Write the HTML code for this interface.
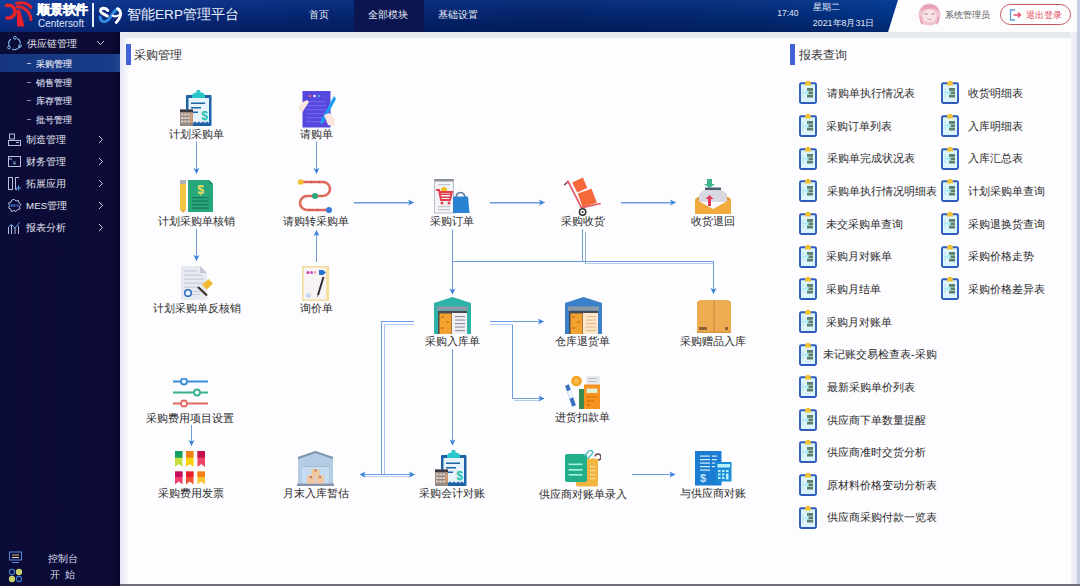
<!DOCTYPE html>
<html><head><meta charset="utf-8">
<style>
*{box-sizing:border-box;}
html,body{margin:0;padding:0;}
body{width:1080px;height:586px;overflow:hidden;position:relative;background:#e6eaf0;font-family:"Liberation Sans",sans-serif;}
.a{position:absolute;white-space:nowrap;}
#hdr{position:absolute;left:0;top:0;width:1080px;height:32px;background:#fdfdfe;}
#hdrdark{position:absolute;left:0;top:0;width:898px;height:32px;
 background:linear-gradient(180deg,rgba(40,90,190,0.22),rgba(40,90,190,0) 45%,rgba(0,5,40,0.28)),linear-gradient(90deg,#0c3493 0px,#092c80 120px,#062672 300px,#04246a 560px,#032a74 760px,#01368a 898px);
 clip-path:polygon(0 0,898px 0,888px 32px,0 32px);}
#side{position:absolute;left:0;top:32px;width:120px;height:554px;background:linear-gradient(90deg,#0a0d36 0,#0c0b38 15%,#0b0c36 60%,#0c0b36 92%,#06082a 100%);}
#main{position:absolute;left:120px;top:38px;width:952px;height:547px;background:#fdfdff;}
#lstrip{position:absolute;left:120px;top:38px;width:9px;height:547px;background:linear-gradient(90deg,#e6e6f5,#fbfbff);}
#rstrip{position:absolute;left:1071px;top:32px;width:9px;height:553px;background:linear-gradient(90deg,#f2f3f7,#e9ebf0 60%,#c6d0e2 70%,#bfcade);}
#rstripH{position:absolute;left:1077px;top:0;width:3px;height:32px;background:#c6d0e2;}
#bline{position:absolute;left:120px;top:584px;width:960px;height:2px;background:#6d7078;}
.nav{color:#e8ecf6;font-size:10.3px;}
.mi{color:#e6e6f0;font-size:9.8px;}
.sub{color:#d8dae8;font-size:9px;-webkit-text-stroke:0.15px #d8dae8;}
.lbl{color:#2b2b2b;font-size:10.9px;}
.rp{color:#2b2b2b;font-size:10.8px;}
</style></head><body>
<div id="hdr"></div>
<div id="hdrdark"></div>
<div id="side"></div>
<div id="main"></div>
<div id="lstrip"></div>
<div id="rstrip"></div><div id="rstripH"></div>
<div id="bline"></div>


<div class="a" style="left:126px;top:44px;width:4.5px;height:21px;background:#4462d8"></div>
<div class="a" style="left:134px;top:47.5px;font-size:11.6px;color:#333">采购管理</div>
<div class="a" style="left:790px;top:44px;width:4.5px;height:21px;background:#4462d8"></div>
<div class="a" style="left:798.5px;top:47.5px;font-size:11.6px;color:#333">报表查询</div>
<svg class="a" style="left:180px;top:90px" width="32" height="37" viewBox="0 0 32 37">
<rect x="6" y="5" width="25.5" height="31" rx="1" fill="#1d64a6"/>
<rect x="8.5" y="8" width="20.5" height="25" fill="#e6f3fb"/>
<path d="M9 33 L11 31.5 L13 33 L15 31.5 L17 33 L19 31.5 L21 33 L23 31.5 L25 33 L27 31.5 L29 33 Z" fill="#1d64a6"/>
<path d="M12 5.5 Q12 2.5 18.5 2 Q25 2.5 25 5.5 L25 8 L12 8 Z" fill="#2bc6c8"/>
<rect x="16.5" y="0" width="4" height="2.5" rx="1" fill="#2bc6c8"/>
<rect x="11" y="12.5" width="14" height="1.5" fill="#1d64a6"/>
<rect x="11" y="17" width="10" height="1.5" fill="#1d64a6"/>
<rect x="11" y="21.5" width="7" height="1.5" fill="#1d64a6"/>
<text x="24.5" y="30" font-family="Liberation Sans" font-weight="bold" font-size="12" fill="#22c0b0" text-anchor="middle">$</text>
<rect x="0" y="19.5" width="13" height="16.5" fill="#9a8a80"/>
<rect x="0" y="19.5" width="13" height="2.5" fill="#3a3a44"/>
<g fill="#d8d0c8"><rect x="1" y="23.5" width="2.5" height="2"/><rect x="4.3" y="23.5" width="2.5" height="2"/><rect x="7.6" y="23.5" width="2.5" height="2"/>
<rect x="1" y="27" width="2.5" height="2"/><rect x="4.3" y="27" width="2.5" height="2"/><rect x="7.6" y="27" width="2.5" height="2"/>
<rect x="1" y="30.5" width="2.5" height="2"/><rect x="4.3" y="30.5" width="2.5" height="2"/><rect x="7.6" y="30.5" width="2.5" height="2"/></g>
<rect x="10.5" y="23.5" width="2" height="9" fill="#e0a070"/>
</svg>
<div class="a lbl" style="left:136px;width:120px;text-align:center;top:127.89999999999999px">计划采购单</div>
<svg class="a" style="left:298px;top:91px" width="38" height="37" viewBox="0 0 38 37">
<rect x="4.5" y="0" width="28" height="36.5" fill="#5548de"/>
<circle cx="12" cy="5" r="1.3" fill="#e06070"/><circle cx="16.5" cy="5" r="1.3" fill="#f4f0ff"/><circle cx="21" cy="5" r="1.3" fill="#50a0f0"/>
<g fill="#6f64ea"><rect x="8" y="10" width="20" height="1.2"/><rect x="8" y="14" width="20" height="1.2"/><rect x="8" y="18" width="20" height="1.2"/><rect x="8" y="22" width="20" height="1.2"/><rect x="8" y="26" width="20" height="1.2"/><rect x="8" y="30" width="20" height="1.2"/></g>
<path d="M0 18 L3 12 L9 9 L11 11 L7 17 L4 22 Z" fill="#fae6de"/>
<path d="M36 5 L38 8 L25 32 L22 33 L23 29 Z" fill="#1c9cf2"/>
<path d="M26 24 L31 22 L37 28 L36 35 L30 34 Z" fill="#fae6de"/>
</svg>
<div class="a lbl" style="left:256px;width:120px;text-align:center;top:127.89999999999999px">请购单</div>
<svg class="a" style="left:180px;top:180px" width="33" height="33" viewBox="0 0 33 33">
<rect x="0" y="3" width="6" height="27" fill="#f2c640"/>
<rect x="0" y="0" width="6" height="4" fill="#b0b0b8"/>
<path d="M0 30 L3 33 L6 30 Z" fill="#e8b050"/>
<path d="M8 0 L29 0 L33 4 L33 32 L8 32 Z" fill="#27a87c"/>
<path d="M29 0 L33 4 L29 4 Z" fill="#1c8a64"/>
<text x="20.5" y="13.5" font-family="Liberation Sans" font-weight="bold" font-size="12" fill="#f6e060" text-anchor="middle">$</text>
<g fill="#1c7a5a"><rect x="12" y="17" width="17" height="1.3"/><rect x="12" y="20.5" width="17" height="1.3"/><rect x="12" y="24" width="17" height="1.3"/><rect x="12" y="27.5" width="17" height="1.3"/></g>
</svg>
<div class="a lbl" style="left:136px;width:120px;text-align:center;top:214.7px">计划采购单核销</div>
<svg class="a" style="left:297px;top:179px" width="36" height="35" viewBox="0 0 36 35">
<path d="M4 3 H26 A7 7 0 0 1 26 17 H10 A7 7 0 0 0 10 31 H31" fill="none" stroke="#e06a5a" stroke-width="2.6"/>
<rect x="1" y="0.5" width="5.5" height="5" rx="1" fill="#f4c038"/>
<circle cx="18" cy="17" r="3" fill="#2aa878"/>
<circle cx="32" cy="31" r="3" fill="#3a78d8"/>
<g fill="#c04a40"><rect x="14" y="2" width="1" height="2"/><rect x="22" y="2" width="1" height="2"/><rect x="12" y="30" width="1" height="2"/><rect x="20" y="30" width="1" height="2"/></g>
</svg>
<div class="a lbl" style="left:256px;width:120px;text-align:center;top:214.7px">请购转采购单</div>
<svg class="a" style="left:434px;top:179px" width="36" height="35" viewBox="0 0 36 35">
<rect x="0.5" y="0" width="19" height="34" fill="#f4f4f6" stroke="#b8bec8" stroke-width="1"/>
<rect x="0.5" y="0" width="19" height="2.5" fill="#8a9098"/>
<rect x="4" y="5" width="12" height="1.2" fill="#c0c4cc"/>
<circle cx="10" cy="11" r="3" fill="#f0c020"/>
<path d="M2 11 L5 11 L7 21 L16 21 L18 13 L5 13" fill="none" stroke="#e2404e" stroke-width="2"/>
<g fill="#e2404e"><rect x="6" y="14.5" width="11" height="1.5"/><rect x="6.5" y="17.5" width="10" height="1.5"/></g>
<circle cx="8" cy="24" r="1.5" fill="#e2404e"/><circle cx="15" cy="24" r="1.5" fill="#e2404e"/>
<rect x="4" y="27" width="12" height="1.2" fill="#c0c4cc"/><rect x="4" y="30" width="12" height="1.2" fill="#c0c4cc"/>
<path d="M22 20 Q22 13.5 26.5 13.5 Q31 13.5 31 20" fill="none" stroke="#5a7a9a" stroke-width="1.6"/>
<path d="M19 17.5 H34 L35.5 34 H19 Z" fill="#2a82d2"/>
</svg>
<div class="a lbl" style="left:392px;width:120px;text-align:center;top:214.7px">采购订单</div>
<svg class="a" style="left:563px;top:176px" width="40" height="40" viewBox="0 0 40 40">
<polygon points="9.2,6.6 19.9,1.6 24.2,12 14.2,16.6" fill="#f4683a"/>
<polygon points="14.8,17.6 28.5,12.7 33.9,26.7 19.5,31" fill="#f4683a"/>
<path d="M4.5 4.4 L18.5 31.7 L37.8 27.5" fill="none" stroke="#e25a64" stroke-width="1.7"/>
<path d="M1.3 9.1 L4.5 6" stroke="#8a4050" stroke-width="1.5"/>
<circle cx="19.6" cy="36" r="3.2" fill="#fff" stroke="#333" stroke-width="1.5"/>
<circle cx="19.6" cy="36" r="1" fill="#333"/>
</svg>
<div class="a lbl" style="left:523px;width:120px;text-align:center;top:214.7px">采购收货</div>
<svg class="a" style="left:695px;top:178px" width="37" height="36" viewBox="0 0 37 36">
<path d="M12 1 H17 V6 H20 L14.5 10 L9 6 H12 Z" fill="#3fb48e"/>
<rect x="10" y="9.5" width="16" height="3" fill="#4c5c6c"/>
<path d="M4 16 L9 12 H27 L32 16 V24 H4 Z" fill="#d8d8e2"/>
<path d="M14.5 17 L18.5 21 H16 V28 H13 V21 H10.5 Z" fill="#e23a5a"/>
<path d="M0 21 L18 31 L36 21 V36 H0 Z" fill="#f2aa3e"/>
<path d="M0 21 L4 18.5 L4 23 Z" fill="#e09830"/><path d="M36 21 L32 18.5 L32 23 Z" fill="#e09830"/>
</svg>
<div class="a lbl" style="left:653px;width:120px;text-align:center;top:214.7px">收货退回</div>
<svg class="a" style="left:180px;top:265px" width="34" height="36" viewBox="0 0 34 36">
<path d="M1 1 H20 L27 8 V35 H1 Z" fill="#e8eaf2"/>
<path d="M20 1 L27 8 H20 Z" fill="#c4c6d4"/>
<g fill="#c8cad6"><rect x="4" y="5.5" width="13" height="1.2"/><rect x="4" y="9.5" width="18" height="1.2"/><rect x="4" y="13.5" width="20" height="1.2"/><rect x="4" y="17.5" width="20" height="1.2"/><rect x="4" y="21.5" width="14" height="1.2"/><rect x="12" y="26" width="8" height="1"/><rect x="12" y="29" width="8" height="1"/></g>
<circle cx="8" cy="28" r="3.3" fill="#e8f2ff" stroke="#2f6fc0" stroke-width="1.6"/>
<path d="M22 20 L28.5 14 L33 18.5 L27 24.5 Z" fill="#f2b830"/>
<path d="M18 22 L27 30.5" stroke="#3a3020" stroke-width="2.2"/>
</svg>
<div class="a lbl" style="left:136.5px;width:120px;text-align:center;top:301.8px">计划采购单反核销</div>
<svg class="a" style="left:302px;top:266px" width="28" height="35" viewBox="0 0 28 35">
<rect x="0.8" y="0.8" width="25.5" height="33.5" fill="#f8f4f6" stroke="#f2dc9c" stroke-width="1.6"/>
<rect x="24" y="2" width="3" height="32" fill="#f4e0a0"/>
<circle cx="6" cy="6.5" r="1.5" fill="#c040b0"/><circle cx="9.5" cy="6.5" r="1.5" fill="#c850c0"/><circle cx="13" cy="6.5" r="1.4" fill="#f0b0c0"/>
<path d="M17 4 H21 L24 6.5 L21 9 H17 Z" fill="#2a72d0"/>
<path d="M21.5 11 L16 29" stroke="#2a2a30" stroke-width="1.9"/><path d="M16 29 L15.3 31" stroke="#888" stroke-width="1"/>
<circle cx="6.5" cy="29.5" r="2.5" fill="#c8d8f0"/>
</svg>
<div class="a lbl" style="left:256px;width:120px;text-align:center;top:301.8px">询价单</div>
<svg class="a" style="left:434px;top:297px" width="37" height="38" viewBox="0 0 37 38">
<path d="M18.5 0 L37 6 V37 H0 V6 Z" fill="#2fb2a8"/>
<rect x="3" y="9.5" width="31" height="4" fill="#8c9aa6"/>
<rect x="4" y="14" width="29" height="23" fill="#4a4a50"/>
<rect x="5.5" y="16.5" width="12" height="20.5" fill="#f2a22e"/>
<g fill="#e07a20"><rect x="7" y="19" width="3" height="2"/><rect x="12" y="24" width="3" height="2"/><rect x="7" y="30" width="3" height="2"/></g>
<rect x="18" y="16" width="15" height="21" fill="#f2eef2"/>
<g fill="#8890a0"><rect x="21" y="19" width="10" height="1.1"/><rect x="21" y="22.5" width="10" height="1.1"/><rect x="21" y="26" width="10" height="1.1"/><rect x="21" y="29.5" width="10" height="1.1"/><rect x="21" y="33" width="10" height="1.1"/></g>
</svg>
<div class="a lbl" style="left:392px;width:120px;text-align:center;top:334.7px">采购入库单</div>
<svg class="a" style="left:565px;top:297px" width="37" height="38" viewBox="0 0 37 38">
<path d="M18.5 0 L37 6 V37 H0 V6 Z" fill="#3a80c8"/>
<rect x="3" y="9.5" width="31" height="4" fill="#8c9aa6"/>
<rect x="4" y="14" width="29" height="23" fill="#4a4a50"/>
<rect x="5.5" y="16.5" width="12" height="20.5" fill="#f2a22e"/>
<g fill="#e07a20"><rect x="7" y="19" width="3" height="2"/><rect x="12" y="24" width="3" height="2"/><rect x="7" y="30" width="3" height="2"/></g>
<rect x="18" y="16" width="15" height="21" fill="#fbe8cc"/>
<g fill="#e8b888"><rect x="21" y="19" width="10" height="1.1"/><rect x="21" y="22.5" width="10" height="1.1"/><rect x="21" y="26" width="10" height="1.1"/><rect x="21" y="29.5" width="10" height="1.1"/><rect x="21" y="33" width="10" height="1.1"/></g>
</svg>
<div class="a lbl" style="left:522.5px;width:120px;text-align:center;top:334.7px">仓库退货单</div>
<svg class="a" style="left:696px;top:300px" width="36" height="34" viewBox="0 0 36 34">
<path d="M1 2 L4 0 H32 L35 2 V33 H1 Z" fill="#eeac52"/>
<rect x="17.5" y="0" width="1.2" height="33" fill="#d08a38"/>
<rect x="1" y="31.5" width="34" height="1.5" fill="#d8963e"/>
<rect x="3" y="27" width="8" height="3" fill="#8a6030"/>
<rect x="29" y="27" width="3" height="3" fill="#8a6030"/>
</svg>
<div class="a lbl" style="left:653px;width:120px;text-align:center;top:334.9px">采购赠品入库</div>
<svg class="a" style="left:173px;top:378px" width="36" height="30" viewBox="0 0 36 30">
<path d="M0 3.5 H35" stroke="#3c8ed6" stroke-width="2"/>
<circle cx="11" cy="3.5" r="3" fill="#fff" stroke="#3c8ed6" stroke-width="1.8"/>
<path d="M0 14.5 H35" stroke="#3ab08e" stroke-width="2"/>
<circle cx="24" cy="14.5" r="3" fill="#fff" stroke="#3ab08e" stroke-width="1.8"/>
<path d="M0 25.5 H35" stroke="#e06a64" stroke-width="2"/>
<circle cx="11" cy="25.5" r="3" fill="#fff" stroke="#e06a64" stroke-width="1.8"/>
</svg>
<div class="a lbl" style="left:130px;width:120px;text-align:center;top:411.8px">采购费用项目设置</div>
<svg class="a" style="left:563px;top:374px" width="38" height="36" viewBox="0 0 38 36">
<rect x="23" y="2" width="14" height="9" fill="#e8eaee"/>
<g fill="#b8bcc4"><rect x="25" y="4" width="9" height="1"/><rect x="25" y="7" width="9" height="1"/></g>
<circle cx="13.5" cy="7" r="5.3" fill="#f4a424"/>
<circle cx="13.5" cy="7" r="2.5" fill="#f8c050"/>
<rect x="16" y="15" width="5" height="20" fill="#3a8a52"/>
<rect x="21" y="10.5" width="16" height="24.5" fill="#f59220"/>
<rect x="23.5" y="14.5" width="11" height="4.5" fill="#e4f2d4"/>
<g fill="#e07a10"><rect x="24" y="22" width="3" height="2"/><rect x="28" y="22" width="3" height="2"/><rect x="32" y="22" width="2.5" height="2"/><rect x="24" y="26" width="3" height="2"/><rect x="28" y="26" width="3" height="2"/><rect x="24" y="30" width="3" height="2"/></g>
<path d="M4 11 L11 32" stroke="#3a72c2" stroke-width="4"/>
<path d="M6 16.5 L8.5 24" stroke="#f0f4fa" stroke-width="4.2"/>
</svg>
<div class="a lbl" style="left:522px;width:120px;text-align:center;top:411.2px">进货扣款单</div>
<svg class="a" style="left:175px;top:451px" width="31" height="34" viewBox="0 0 31 34"><path d="M0 0 h7.5 v16 l-3.75 -3 l-3.75 3 Z" fill="#c4e03e"/><rect x="0" y="0" width="7.5" height="6.7" fill="#12a064"/><path d="M11 0 h7.5 v16 l-3.75 -3 l-3.75 3 Z" fill="#f8d00c"/><rect x="11" y="0" width="7.5" height="6.7" fill="#f28214"/><path d="M22.5 0 h7.5 v16 l-3.75 -3 l-3.75 3 Z" fill="#f04466"/><rect x="22.5" y="0" width="7.5" height="6.7" fill="#c8104e"/><path d="M0 20.5 h7.5 v13 l-3.75 -3 l-3.75 3 Z" fill="#f0406a"/><rect x="0" y="20.5" width="7.5" height="5.5" fill="#c4105c"/><path d="M11 20.5 h7.5 v13 l-3.75 -3 l-3.75 3 Z" fill="#f05030"/><rect x="11" y="20.5" width="7.5" height="5.5" fill="#e8202e"/><path d="M22.5 20.5 h7.5 v13 l-3.75 -3 l-3.75 3 Z" fill="#f8c42a"/><rect x="22.5" y="20.5" width="7.5" height="5.5" fill="#f28014"/></svg>
<div class="a lbl" style="left:131px;width:120px;text-align:center;top:487.4px">采购费用发票</div>
<svg class="a" style="left:297px;top:451px" width="37" height="35" viewBox="0 0 37 35">
<path d="M18.5 0.5 L36 6.5 V34 H1 V6.5 Z" fill="#b4cce4"/>
<path d="M1 7 L18.5 1 L36 7" fill="none" stroke="#7e96ae" stroke-width="2"/>
<rect x="6" y="15" width="25" height="1.5" fill="#a0b8d0"/>
<rect x="5" y="16" width="27" height="17" fill="#c6dcf2"/>
<rect x="0" y="32.5" width="37" height="2.5" fill="#8494a6"/>
<rect x="14.5" y="18" width="8" height="7" fill="#f0c8a0"/>
<rect x="10" y="24.5" width="8" height="8" fill="#f2c4a0"/>
<rect x="19" y="24.5" width="8" height="8" fill="#f2c4a0"/>
<g fill="#c08060"><circle cx="18.5" cy="19.5" r="1.3"/><circle cx="14" cy="26" r="1.3"/><circle cx="23" cy="26" r="1.3"/></g>
</svg>
<div class="a lbl" style="left:256px;width:120px;text-align:center;top:487.4px">月末入库暂估</div>
<svg class="a" style="left:435px;top:450px" width="32" height="37" viewBox="0 0 32 37">
<rect x="6" y="5" width="25.5" height="31" rx="1" fill="#1d64a6"/>
<rect x="8.5" y="8" width="20.5" height="25" fill="#e6f3fb"/>
<path d="M9 33 L11 31.5 L13 33 L15 31.5 L17 33 L19 31.5 L21 33 L23 31.5 L25 33 L27 31.5 L29 33 Z" fill="#1d64a6"/>
<path d="M12 5.5 Q12 2.5 18.5 2 Q25 2.5 25 5.5 L25 8 L12 8 Z" fill="#2bc6c8"/>
<rect x="16.5" y="0" width="4" height="2.5" rx="1" fill="#2bc6c8"/>
<rect x="11" y="12.5" width="14" height="1.5" fill="#1d64a6"/>
<rect x="11" y="17" width="10" height="1.5" fill="#1d64a6"/>
<rect x="11" y="21.5" width="7" height="1.5" fill="#1d64a6"/>
<text x="24.5" y="30" font-family="Liberation Sans" font-weight="bold" font-size="12" fill="#22c0b0" text-anchor="middle">$</text>
<rect x="0" y="19.5" width="13" height="16.5" fill="#9a8a80"/>
<rect x="0" y="19.5" width="13" height="2.5" fill="#3a3a44"/>
<g fill="#d8d0c8"><rect x="1" y="23.5" width="2.5" height="2"/><rect x="4.3" y="23.5" width="2.5" height="2"/><rect x="7.6" y="23.5" width="2.5" height="2"/>
<rect x="1" y="27" width="2.5" height="2"/><rect x="4.3" y="27" width="2.5" height="2"/><rect x="7.6" y="27" width="2.5" height="2"/>
<rect x="1" y="30.5" width="2.5" height="2"/><rect x="4.3" y="30.5" width="2.5" height="2"/><rect x="7.6" y="30.5" width="2.5" height="2"/></g>
<rect x="10.5" y="23.5" width="2" height="9" fill="#e0a070"/>
</svg>
<div class="a lbl" style="left:392px;width:120px;text-align:center;top:487.4px">采购会计对账</div>
<svg class="a" style="left:564px;top:450px" width="37" height="37" viewBox="0 0 37 37">
<rect x="12" y="8.5" width="22" height="28" rx="2" fill="#f2b640"/>
<g fill="#f8d890"><rect x="26" y="16" width="5" height="1.3"/><rect x="26" y="20" width="5" height="1.3"/><rect x="26" y="24" width="5" height="1.3"/><rect x="26" y="28" width="5" height="1.3"/></g>
<path d="M31 6.5 A3 3 0 1 1 34 10" fill="none" stroke="#704848" stroke-width="1.4"/>
<rect x="1" y="4" width="22" height="28" rx="2" fill="#22ae8a"/>
<g fill="#a8f0e0"><rect x="4.5" y="13.5" width="14" height="1.6"/><rect x="4.5" y="19" width="14" height="1.6"/><rect x="4.5" y="24" width="14" height="1.6"/></g>
<path d="M20 6 L25 1 A2 2 0 0 1 28 4 L23 9" fill="none" stroke="#58c0c8" stroke-width="1.6"/>
</svg>
<div class="a lbl" style="left:522.5px;width:120px;text-align:center;top:487.9px">供应商对账单录入</div>
<svg class="a" style="left:695px;top:451px" width="37" height="35" viewBox="0 0 37 35">
<rect x="0" y="0" width="26.5" height="34.5" fill="#1b7ed2"/>
<g fill="#d4ecfc"><rect x="5" y="4.5" width="10" height="1.2"/><rect x="17" y="4.5" width="5" height="1.2"/><rect x="5" y="8" width="10" height="1.2"/><rect x="17" y="8" width="5" height="1.2"/><rect x="5" y="11.5" width="10" height="1.2"/><rect x="17" y="11.5" width="3" height="1.2"/><rect x="5" y="15" width="10" height="1.2"/><rect x="17" y="15" width="3" height="1.2"/><rect x="5" y="18.5" width="10" height="1.2"/></g>
<text x="8" y="31" font-family="Liberation Sans" font-weight="bold" font-size="11" fill="#c4e4fa" text-anchor="middle">$</text>
<rect x="21" y="11" width="15.5" height="19.5" fill="#1b8ed8"/>
<rect x="22.5" y="13" width="12.5" height="3.5" fill="#b8f0fc"/>
<g fill="#b8f0fc"><rect x="23" y="19" width="2.5" height="2"/><rect x="27" y="19" width="2.5" height="2"/><rect x="31" y="19" width="2.5" height="2"/><rect x="23" y="22.5" width="2.5" height="2"/><rect x="27" y="22.5" width="2.5" height="2"/><rect x="31" y="22.5" width="2.5" height="6"/><rect x="23" y="26" width="2.5" height="2"/><rect x="27" y="26" width="2.5" height="2"/></g>
</svg>
<div class="a lbl" style="left:653px;width:120px;text-align:center;top:487.4px">与供应商对账</div>
<svg class="a" style="left:0;top:0" width="1080" height="586" viewBox="0 0 1080 586"><path d="M196.5 141.5 V173.5" stroke="#6c9cdc" stroke-width="1"/><path d="M196.5 174 L193.5 168 L196.5 169.5 L199.5 168 Z" fill="#3a82d8"/><path d="M316.5 141.5 V173.5" stroke="#6c9cdc" stroke-width="1"/><path d="M316.5 174 L313.5 168 L316.5 169.5 L319.5 168 Z" fill="#3a82d8"/><path d="M196.5 229 V260.5" stroke="#6c9cdc" stroke-width="1"/><path d="M196.5 261 L193.5 255 L196.5 256.5 L199.5 255 Z" fill="#3a82d8"/><path d="M316.5 262 V230.5" stroke="#6c9cdc" stroke-width="1"/><path d="M316.5 230 L313.5 236 L316.5 234.5 L319.5 236 Z" fill="#3a82d8"/><path d="M354 202.5 H413.5" stroke="#6c9cdc" stroke-width="1"/><path d="M354 203.5 H408" stroke="#b4cdee" stroke-width="1"/><path d="M414 202.5 L408 199.5 L409.5 202.5 L408 205.5 Z" fill="#3a82d8"/><path d="M490 202.5 H544.5" stroke="#6c9cdc" stroke-width="1"/><path d="M490 203.5 H540" stroke="#b4cdee" stroke-width="1"/><path d="M545 202.5 L539 199.5 L540.5 202.5 L539 205.5 Z" fill="#3a82d8"/><path d="M621 202.5 H675.5" stroke="#6c9cdc" stroke-width="1"/><path d="M621 203.5 H670" stroke="#b4cdee" stroke-width="1"/><path d="M676 202.5 L670 199.5 L671.5 202.5 L670 205.5 Z" fill="#3a82d8"/><path d="M452.5 229.5 V294" stroke="#6c9cdc" stroke-width="1"/><path d="M452.5 294.5 L449.5 288.5 L452.5 290.0 L455.5 288.5 Z" fill="#3a82d8"/><path d="M582.5 229 V262" stroke="#6c9cdc" stroke-width="1"/><path d="M585.5 232 V264" stroke="#8caad2" stroke-width="1"/><path d="M452.5 261.5 H713.5" stroke="#6c9cdc" stroke-width="1"/><path d="M585.5 263.5 H713.5" stroke="#b4cdee" stroke-width="1"/><path d="M713.5 261.5 V293.5" stroke="#6c9cdc" stroke-width="1"/><path d="M713.5 294 L710.5 288 L713.5 289.5 L716.5 288 Z" fill="#3a82d8"/><path d="M381.5 321.5 H414" stroke="#6c9cdc" stroke-width="1"/><path d="M384.5 324.5 H414" stroke="#b4cdee" stroke-width="1"/><path d="M381.5 321.5 V474" stroke="#6c9cdc" stroke-width="1"/><path d="M384.5 324.5 V474" stroke="#a8c4ea" stroke-width="1"/><path d="M360 474.5 H414.5" stroke="#6c9cdc" stroke-width="1"/><path d="M362 476.5 H412" stroke="#b4cdee" stroke-width="1"/><path d="M359.5 474.5 L365.5 471.5 L364.0 474.5 L365.5 477.5 Z" fill="#3a82d8"/><path d="M415 474.5 L409 471.5 L410.5 474.5 L409 477.5 Z" fill="#3a82d8"/><path d="M490 321.5 H543.5" stroke="#6c9cdc" stroke-width="1"/><path d="M490 324.5 H512" stroke="#b4cdee" stroke-width="1"/><path d="M544 321.5 L538 318.5 L539.5 321.5 L538 324.5 Z" fill="#3a82d8"/><path d="M512.5 324.5 V398.5" stroke="#6c9cdc" stroke-width="1"/><path d="M512.5 398.5 H544" stroke="#6c9cdc" stroke-width="1"/><path d="M514 400.5 H540" stroke="#b4cdee" stroke-width="1"/><path d="M544.5 398.5 L538.5 395.5 L540.0 398.5 L538.5 401.5 Z" fill="#3a82d8"/><path d="M452.5 349 V445" stroke="#6c9cdc" stroke-width="1"/><path d="M452.5 445.5 L449.5 439.5 L452.5 441.0 L455.5 439.5 Z" fill="#3a82d8"/><path d="M191.5 425 V445.5" stroke="#6c9cdc" stroke-width="1"/><path d="M191.5 446 L188.5 440 L191.5 441.5 L194.5 440 Z" fill="#3a82d8"/><path d="M632 474.5 H675" stroke="#6c9cdc" stroke-width="1"/><path d="M675.5 474.5 L669.5 471.5 L671.0 474.5 L669.5 477.5 Z" fill="#3a82d8"/></svg>
<svg class="a" style="left:799px;top:80.4px" width="18" height="24" viewBox="0 0 18 24">
<rect x="1" y="3.2" width="16" height="19.8" rx="1.2" fill="#dcf4fb" stroke="#2f5cbc" stroke-width="1.9"/>
<path d="M6 4.5 Q6 0.8 9 0.8 Q12 0.8 12 4.5 V5.5 H6 Z" fill="#f2c232"/>
<rect x="8" y="8" width="6" height="9.5" fill="#5c7e6c"/>
<g fill="#cfe8e0"><rect x="8" y="10.8" width="6" height="0.7"/><rect x="8" y="14.3" width="6" height="0.7"/></g>
<circle cx="7.8" cy="12.7" r="2" fill="#a8eef8"/>
<path d="M4 8.5 V17 M4 12.7 H6" fill="none" stroke="#8cc8d8" stroke-width="0.8" stroke-dasharray="1 0.8"/>
</svg>
<div class="a rp" style="left:826.7px;top:87.1px">请购单执行情况表</div>
<svg class="a" style="left:799px;top:113.0px" width="18" height="24" viewBox="0 0 18 24">
<rect x="1" y="3.2" width="16" height="19.8" rx="1.2" fill="#dcf4fb" stroke="#2f5cbc" stroke-width="1.9"/>
<path d="M6 4.5 Q6 0.8 9 0.8 Q12 0.8 12 4.5 V5.5 H6 Z" fill="#f2c232"/>
<rect x="8" y="8" width="6" height="9.5" fill="#5c7e6c"/>
<g fill="#cfe8e0"><rect x="8" y="10.8" width="6" height="0.7"/><rect x="8" y="14.3" width="6" height="0.7"/></g>
<circle cx="7.8" cy="12.7" r="2" fill="#a8eef8"/>
<path d="M4 8.5 V17 M4 12.7 H6" fill="none" stroke="#8cc8d8" stroke-width="0.8" stroke-dasharray="1 0.8"/>
</svg>
<div class="a rp" style="left:826.2px;top:119.69999999999999px">采购订单列表</div>
<svg class="a" style="left:799px;top:145.7px" width="18" height="24" viewBox="0 0 18 24">
<rect x="1" y="3.2" width="16" height="19.8" rx="1.2" fill="#dcf4fb" stroke="#2f5cbc" stroke-width="1.9"/>
<path d="M6 4.5 Q6 0.8 9 0.8 Q12 0.8 12 4.5 V5.5 H6 Z" fill="#f2c232"/>
<rect x="8" y="8" width="6" height="9.5" fill="#5c7e6c"/>
<g fill="#cfe8e0"><rect x="8" y="10.8" width="6" height="0.7"/><rect x="8" y="14.3" width="6" height="0.7"/></g>
<circle cx="7.8" cy="12.7" r="2" fill="#a8eef8"/>
<path d="M4 8.5 V17 M4 12.7 H6" fill="none" stroke="#8cc8d8" stroke-width="0.8" stroke-dasharray="1 0.8"/>
</svg>
<div class="a rp" style="left:826.7px;top:152.4px">采购单完成状况表</div>
<svg class="a" style="left:799px;top:178.3px" width="18" height="24" viewBox="0 0 18 24">
<rect x="1" y="3.2" width="16" height="19.8" rx="1.2" fill="#dcf4fb" stroke="#2f5cbc" stroke-width="1.9"/>
<path d="M6 4.5 Q6 0.8 9 0.8 Q12 0.8 12 4.5 V5.5 H6 Z" fill="#f2c232"/>
<rect x="8" y="8" width="6" height="9.5" fill="#5c7e6c"/>
<g fill="#cfe8e0"><rect x="8" y="10.8" width="6" height="0.7"/><rect x="8" y="14.3" width="6" height="0.7"/></g>
<circle cx="7.8" cy="12.7" r="2" fill="#a8eef8"/>
<path d="M4 8.5 V17 M4 12.7 H6" fill="none" stroke="#8cc8d8" stroke-width="0.8" stroke-dasharray="1 0.8"/>
</svg>
<div class="a rp" style="left:826.7px;top:185.0px">采购单执行情况明细表</div>
<svg class="a" style="left:799px;top:211.0px" width="18" height="24" viewBox="0 0 18 24">
<rect x="1" y="3.2" width="16" height="19.8" rx="1.2" fill="#dcf4fb" stroke="#2f5cbc" stroke-width="1.9"/>
<path d="M6 4.5 Q6 0.8 9 0.8 Q12 0.8 12 4.5 V5.5 H6 Z" fill="#f2c232"/>
<rect x="8" y="8" width="6" height="9.5" fill="#5c7e6c"/>
<g fill="#cfe8e0"><rect x="8" y="10.8" width="6" height="0.7"/><rect x="8" y="14.3" width="6" height="0.7"/></g>
<circle cx="7.8" cy="12.7" r="2" fill="#a8eef8"/>
<path d="M4 8.5 V17 M4 12.7 H6" fill="none" stroke="#8cc8d8" stroke-width="0.8" stroke-dasharray="1 0.8"/>
</svg>
<div class="a rp" style="left:826.2px;top:217.7px">未交采购单查询</div>
<svg class="a" style="left:799px;top:243.6px" width="18" height="24" viewBox="0 0 18 24">
<rect x="1" y="3.2" width="16" height="19.8" rx="1.2" fill="#dcf4fb" stroke="#2f5cbc" stroke-width="1.9"/>
<path d="M6 4.5 Q6 0.8 9 0.8 Q12 0.8 12 4.5 V5.5 H6 Z" fill="#f2c232"/>
<rect x="8" y="8" width="6" height="9.5" fill="#5c7e6c"/>
<g fill="#cfe8e0"><rect x="8" y="10.8" width="6" height="0.7"/><rect x="8" y="14.3" width="6" height="0.7"/></g>
<circle cx="7.8" cy="12.7" r="2" fill="#a8eef8"/>
<path d="M4 8.5 V17 M4 12.7 H6" fill="none" stroke="#8cc8d8" stroke-width="0.8" stroke-dasharray="1 0.8"/>
</svg>
<div class="a rp" style="left:826.2px;top:250.29999999999998px">采购月对账单</div>
<svg class="a" style="left:799px;top:276.2px" width="18" height="24" viewBox="0 0 18 24">
<rect x="1" y="3.2" width="16" height="19.8" rx="1.2" fill="#dcf4fb" stroke="#2f5cbc" stroke-width="1.9"/>
<path d="M6 4.5 Q6 0.8 9 0.8 Q12 0.8 12 4.5 V5.5 H6 Z" fill="#f2c232"/>
<rect x="8" y="8" width="6" height="9.5" fill="#5c7e6c"/>
<g fill="#cfe8e0"><rect x="8" y="10.8" width="6" height="0.7"/><rect x="8" y="14.3" width="6" height="0.7"/></g>
<circle cx="7.8" cy="12.7" r="2" fill="#a8eef8"/>
<path d="M4 8.5 V17 M4 12.7 H6" fill="none" stroke="#8cc8d8" stroke-width="0.8" stroke-dasharray="1 0.8"/>
</svg>
<div class="a rp" style="left:826.2px;top:282.90000000000003px">采购月结单</div>
<svg class="a" style="left:799px;top:308.9px" width="18" height="24" viewBox="0 0 18 24">
<rect x="1" y="3.2" width="16" height="19.8" rx="1.2" fill="#dcf4fb" stroke="#2f5cbc" stroke-width="1.9"/>
<path d="M6 4.5 Q6 0.8 9 0.8 Q12 0.8 12 4.5 V5.5 H6 Z" fill="#f2c232"/>
<rect x="8" y="8" width="6" height="9.5" fill="#5c7e6c"/>
<g fill="#cfe8e0"><rect x="8" y="10.8" width="6" height="0.7"/><rect x="8" y="14.3" width="6" height="0.7"/></g>
<circle cx="7.8" cy="12.7" r="2" fill="#a8eef8"/>
<path d="M4 8.5 V17 M4 12.7 H6" fill="none" stroke="#8cc8d8" stroke-width="0.8" stroke-dasharray="1 0.8"/>
</svg>
<div class="a rp" style="left:825.9000000000001px;top:315.6px">采购月对账单</div>
<svg class="a" style="left:799px;top:341.5px" width="18" height="24" viewBox="0 0 18 24">
<rect x="1" y="3.2" width="16" height="19.8" rx="1.2" fill="#dcf4fb" stroke="#2f5cbc" stroke-width="1.9"/>
<path d="M6 4.5 Q6 0.8 9 0.8 Q12 0.8 12 4.5 V5.5 H6 Z" fill="#f2c232"/>
<rect x="8" y="8" width="6" height="9.5" fill="#5c7e6c"/>
<g fill="#cfe8e0"><rect x="8" y="10.8" width="6" height="0.7"/><rect x="8" y="14.3" width="6" height="0.7"/></g>
<circle cx="7.8" cy="12.7" r="2" fill="#a8eef8"/>
<path d="M4 8.5 V17 M4 12.7 H6" fill="none" stroke="#8cc8d8" stroke-width="0.8" stroke-dasharray="1 0.8"/>
</svg>
<div class="a rp" style="left:823.0px;top:348.20000000000005px">未记账交易检查表-采购</div>
<svg class="a" style="left:799px;top:374.2px" width="18" height="24" viewBox="0 0 18 24">
<rect x="1" y="3.2" width="16" height="19.8" rx="1.2" fill="#dcf4fb" stroke="#2f5cbc" stroke-width="1.9"/>
<path d="M6 4.5 Q6 0.8 9 0.8 Q12 0.8 12 4.5 V5.5 H6 Z" fill="#f2c232"/>
<rect x="8" y="8" width="6" height="9.5" fill="#5c7e6c"/>
<g fill="#cfe8e0"><rect x="8" y="10.8" width="6" height="0.7"/><rect x="8" y="14.3" width="6" height="0.7"/></g>
<circle cx="7.8" cy="12.7" r="2" fill="#a8eef8"/>
<path d="M4 8.5 V17 M4 12.7 H6" fill="none" stroke="#8cc8d8" stroke-width="0.8" stroke-dasharray="1 0.8"/>
</svg>
<div class="a rp" style="left:827.1px;top:380.90000000000003px">最新采购单价列表</div>
<svg class="a" style="left:799px;top:406.8px" width="18" height="24" viewBox="0 0 18 24">
<rect x="1" y="3.2" width="16" height="19.8" rx="1.2" fill="#dcf4fb" stroke="#2f5cbc" stroke-width="1.9"/>
<path d="M6 4.5 Q6 0.8 9 0.8 Q12 0.8 12 4.5 V5.5 H6 Z" fill="#f2c232"/>
<rect x="8" y="8" width="6" height="9.5" fill="#5c7e6c"/>
<g fill="#cfe8e0"><rect x="8" y="10.8" width="6" height="0.7"/><rect x="8" y="14.3" width="6" height="0.7"/></g>
<circle cx="7.8" cy="12.7" r="2" fill="#a8eef8"/>
<path d="M4 8.5 V17 M4 12.7 H6" fill="none" stroke="#8cc8d8" stroke-width="0.8" stroke-dasharray="1 0.8"/>
</svg>
<div class="a rp" style="left:826.7px;top:413.5px">供应商下单数量提醒</div>
<svg class="a" style="left:799px;top:439.4px" width="18" height="24" viewBox="0 0 18 24">
<rect x="1" y="3.2" width="16" height="19.8" rx="1.2" fill="#dcf4fb" stroke="#2f5cbc" stroke-width="1.9"/>
<path d="M6 4.5 Q6 0.8 9 0.8 Q12 0.8 12 4.5 V5.5 H6 Z" fill="#f2c232"/>
<rect x="8" y="8" width="6" height="9.5" fill="#5c7e6c"/>
<g fill="#cfe8e0"><rect x="8" y="10.8" width="6" height="0.7"/><rect x="8" y="14.3" width="6" height="0.7"/></g>
<circle cx="7.8" cy="12.7" r="2" fill="#a8eef8"/>
<path d="M4 8.5 V17 M4 12.7 H6" fill="none" stroke="#8cc8d8" stroke-width="0.8" stroke-dasharray="1 0.8"/>
</svg>
<div class="a rp" style="left:826.7px;top:446.1px">供应商准时交货分析</div>
<svg class="a" style="left:799px;top:472.1px" width="18" height="24" viewBox="0 0 18 24">
<rect x="1" y="3.2" width="16" height="19.8" rx="1.2" fill="#dcf4fb" stroke="#2f5cbc" stroke-width="1.9"/>
<path d="M6 4.5 Q6 0.8 9 0.8 Q12 0.8 12 4.5 V5.5 H6 Z" fill="#f2c232"/>
<rect x="8" y="8" width="6" height="9.5" fill="#5c7e6c"/>
<g fill="#cfe8e0"><rect x="8" y="10.8" width="6" height="0.7"/><rect x="8" y="14.3" width="6" height="0.7"/></g>
<circle cx="7.8" cy="12.7" r="2" fill="#a8eef8"/>
<path d="M4 8.5 V17 M4 12.7 H6" fill="none" stroke="#8cc8d8" stroke-width="0.8" stroke-dasharray="1 0.8"/>
</svg>
<div class="a rp" style="left:826.7px;top:478.8px">原材料价格变动分析表</div>
<svg class="a" style="left:799px;top:504.7px" width="18" height="24" viewBox="0 0 18 24">
<rect x="1" y="3.2" width="16" height="19.8" rx="1.2" fill="#dcf4fb" stroke="#2f5cbc" stroke-width="1.9"/>
<path d="M6 4.5 Q6 0.8 9 0.8 Q12 0.8 12 4.5 V5.5 H6 Z" fill="#f2c232"/>
<rect x="8" y="8" width="6" height="9.5" fill="#5c7e6c"/>
<g fill="#cfe8e0"><rect x="8" y="10.8" width="6" height="0.7"/><rect x="8" y="14.3" width="6" height="0.7"/></g>
<circle cx="7.8" cy="12.7" r="2" fill="#a8eef8"/>
<path d="M4 8.5 V17 M4 12.7 H6" fill="none" stroke="#8cc8d8" stroke-width="0.8" stroke-dasharray="1 0.8"/>
</svg>
<div class="a rp" style="left:826.7px;top:511.4px">供应商采购付款一览表</div>
<svg class="a" style="left:940.5px;top:80.4px" width="18" height="24" viewBox="0 0 18 24">
<rect x="1" y="3.2" width="16" height="19.8" rx="1.2" fill="#dcf4fb" stroke="#2f5cbc" stroke-width="1.9"/>
<path d="M6 4.5 Q6 0.8 9 0.8 Q12 0.8 12 4.5 V5.5 H6 Z" fill="#f2c232"/>
<rect x="8" y="8" width="6" height="9.5" fill="#5c7e6c"/>
<g fill="#cfe8e0"><rect x="8" y="10.8" width="6" height="0.7"/><rect x="8" y="14.3" width="6" height="0.7"/></g>
<circle cx="7.8" cy="12.7" r="2" fill="#a8eef8"/>
<path d="M4 8.5 V17 M4 12.7 H6" fill="none" stroke="#8cc8d8" stroke-width="0.8" stroke-dasharray="1 0.8"/>
</svg>
<div class="a rp" style="left:967.7px;top:87.1px">收货明细表</div>
<svg class="a" style="left:940.5px;top:113.0px" width="18" height="24" viewBox="0 0 18 24">
<rect x="1" y="3.2" width="16" height="19.8" rx="1.2" fill="#dcf4fb" stroke="#2f5cbc" stroke-width="1.9"/>
<path d="M6 4.5 Q6 0.8 9 0.8 Q12 0.8 12 4.5 V5.5 H6 Z" fill="#f2c232"/>
<rect x="8" y="8" width="6" height="9.5" fill="#5c7e6c"/>
<g fill="#cfe8e0"><rect x="8" y="10.8" width="6" height="0.7"/><rect x="8" y="14.3" width="6" height="0.7"/></g>
<circle cx="7.8" cy="12.7" r="2" fill="#a8eef8"/>
<path d="M4 8.5 V17 M4 12.7 H6" fill="none" stroke="#8cc8d8" stroke-width="0.8" stroke-dasharray="1 0.8"/>
</svg>
<div class="a rp" style="left:967.7px;top:119.69999999999999px">入库明细表</div>
<svg class="a" style="left:940.5px;top:145.7px" width="18" height="24" viewBox="0 0 18 24">
<rect x="1" y="3.2" width="16" height="19.8" rx="1.2" fill="#dcf4fb" stroke="#2f5cbc" stroke-width="1.9"/>
<path d="M6 4.5 Q6 0.8 9 0.8 Q12 0.8 12 4.5 V5.5 H6 Z" fill="#f2c232"/>
<rect x="8" y="8" width="6" height="9.5" fill="#5c7e6c"/>
<g fill="#cfe8e0"><rect x="8" y="10.8" width="6" height="0.7"/><rect x="8" y="14.3" width="6" height="0.7"/></g>
<circle cx="7.8" cy="12.7" r="2" fill="#a8eef8"/>
<path d="M4 8.5 V17 M4 12.7 H6" fill="none" stroke="#8cc8d8" stroke-width="0.8" stroke-dasharray="1 0.8"/>
</svg>
<div class="a rp" style="left:967.7px;top:152.4px">入库汇总表</div>
<svg class="a" style="left:940.5px;top:178.3px" width="18" height="24" viewBox="0 0 18 24">
<rect x="1" y="3.2" width="16" height="19.8" rx="1.2" fill="#dcf4fb" stroke="#2f5cbc" stroke-width="1.9"/>
<path d="M6 4.5 Q6 0.8 9 0.8 Q12 0.8 12 4.5 V5.5 H6 Z" fill="#f2c232"/>
<rect x="8" y="8" width="6" height="9.5" fill="#5c7e6c"/>
<g fill="#cfe8e0"><rect x="8" y="10.8" width="6" height="0.7"/><rect x="8" y="14.3" width="6" height="0.7"/></g>
<circle cx="7.8" cy="12.7" r="2" fill="#a8eef8"/>
<path d="M4 8.5 V17 M4 12.7 H6" fill="none" stroke="#8cc8d8" stroke-width="0.8" stroke-dasharray="1 0.8"/>
</svg>
<div class="a rp" style="left:967.7px;top:185.0px">计划采购单查询</div>
<svg class="a" style="left:940.5px;top:211.0px" width="18" height="24" viewBox="0 0 18 24">
<rect x="1" y="3.2" width="16" height="19.8" rx="1.2" fill="#dcf4fb" stroke="#2f5cbc" stroke-width="1.9"/>
<path d="M6 4.5 Q6 0.8 9 0.8 Q12 0.8 12 4.5 V5.5 H6 Z" fill="#f2c232"/>
<rect x="8" y="8" width="6" height="9.5" fill="#5c7e6c"/>
<g fill="#cfe8e0"><rect x="8" y="10.8" width="6" height="0.7"/><rect x="8" y="14.3" width="6" height="0.7"/></g>
<circle cx="7.8" cy="12.7" r="2" fill="#a8eef8"/>
<path d="M4 8.5 V17 M4 12.7 H6" fill="none" stroke="#8cc8d8" stroke-width="0.8" stroke-dasharray="1 0.8"/>
</svg>
<div class="a rp" style="left:967.7px;top:217.7px">采购退换货查询</div>
<svg class="a" style="left:940.5px;top:243.6px" width="18" height="24" viewBox="0 0 18 24">
<rect x="1" y="3.2" width="16" height="19.8" rx="1.2" fill="#dcf4fb" stroke="#2f5cbc" stroke-width="1.9"/>
<path d="M6 4.5 Q6 0.8 9 0.8 Q12 0.8 12 4.5 V5.5 H6 Z" fill="#f2c232"/>
<rect x="8" y="8" width="6" height="9.5" fill="#5c7e6c"/>
<g fill="#cfe8e0"><rect x="8" y="10.8" width="6" height="0.7"/><rect x="8" y="14.3" width="6" height="0.7"/></g>
<circle cx="7.8" cy="12.7" r="2" fill="#a8eef8"/>
<path d="M4 8.5 V17 M4 12.7 H6" fill="none" stroke="#8cc8d8" stroke-width="0.8" stroke-dasharray="1 0.8"/>
</svg>
<div class="a rp" style="left:967.7px;top:250.29999999999998px">采购价格走势</div>
<svg class="a" style="left:940.5px;top:276.2px" width="18" height="24" viewBox="0 0 18 24">
<rect x="1" y="3.2" width="16" height="19.8" rx="1.2" fill="#dcf4fb" stroke="#2f5cbc" stroke-width="1.9"/>
<path d="M6 4.5 Q6 0.8 9 0.8 Q12 0.8 12 4.5 V5.5 H6 Z" fill="#f2c232"/>
<rect x="8" y="8" width="6" height="9.5" fill="#5c7e6c"/>
<g fill="#cfe8e0"><rect x="8" y="10.8" width="6" height="0.7"/><rect x="8" y="14.3" width="6" height="0.7"/></g>
<circle cx="7.8" cy="12.7" r="2" fill="#a8eef8"/>
<path d="M4 8.5 V17 M4 12.7 H6" fill="none" stroke="#8cc8d8" stroke-width="0.8" stroke-dasharray="1 0.8"/>
</svg>
<div class="a rp" style="left:967.7px;top:282.90000000000003px">采购价格差异表</div>
<!-- sidebar content -->
<div class="a" style="left:0;top:54px;width:120px;height:18px;background:linear-gradient(90deg,#15367f,#193b88 92%,#22458f)"></div>
<svg class="a" style="left:7px;top:36px" width="15" height="15" viewBox="0 0 15 15">
 <path d="M4 3 A6 6 0 0 0 2.5 10.5" fill="none" stroke="#7fb6e6" stroke-width="1.1"/>
 <path d="M5 13.3 A6 6 0 0 0 12.8 10" fill="none" stroke="#7fb6e6" stroke-width="1.1"/>
 <path d="M10.5 2.5 A6 6 0 0 1 13.3 7.5" fill="none" stroke="#7fb6e6" stroke-width="1.1"/>
 <circle cx="8" cy="1.8" r="1.4" fill="none" stroke="#7fb6e6" stroke-width="1"/>
 <circle cx="2" cy="11.5" r="1.4" fill="none" stroke="#7fb6e6" stroke-width="1"/>
 <circle cx="13" cy="10" r="1.4" fill="none" stroke="#7fb6e6" stroke-width="1"/>
</svg>
<div class="a mi" style="left:27px;top:38.3px">供应链管理</div>
<svg class="a" style="left:96px;top:40px" width="9" height="6" viewBox="0 0 9 6"><path d="M1 1 L4.5 4.5 L8 1" fill="none" stroke="#c8cce0" stroke-width="1"/></svg>
<div class="a" style="left:27px;top:63px;width:4px;height:1px;background:#c0c8e8"></div>
<div class="a sub" style="left:36px;top:57.5px;color:#f0f2fa">采购管理</div>
<div class="a" style="left:27px;top:82px;width:4px;height:1px;background:#8a8eb0"></div>
<div class="a sub" style="left:36px;top:76.5px">销售管理</div>
<div class="a" style="left:27px;top:100px;width:4px;height:1px;background:#8a8eb0"></div>
<div class="a sub" style="left:36px;top:94.5px">库存管理</div>
<div class="a" style="left:27px;top:119px;width:4px;height:1px;background:#8a8eb0"></div>
<div class="a sub" style="left:36px;top:113.5px">批号管理</div>

<svg class="a" style="left:7px;top:132px" width="15" height="15" viewBox="0 0 15 15" fill="none" stroke="#b8c0dc" stroke-width="1">
 <rect x="1.5" y="8.5" width="12" height="5"/><rect x="2.5" y="2" width="5" height="5"/><path d="M9 10.5 H12"/>
</svg>
<div class="a mi" style="left:26px;top:134.3px">制造管理</div>
<svg class="a" style="left:98px;top:135px" width="6" height="9" viewBox="0 0 6 9"><path d="M1 1 L4.5 4.5 L1 8" fill="none" stroke="#c8cce0" stroke-width="1"/></svg>

<svg class="a" style="left:7px;top:154px" width="15" height="15" viewBox="0 0 15 15" fill="none" stroke="#b8c0dc" stroke-width="1">
 <rect x="1.5" y="2.5" width="12" height="10"/><path d="M1.5 5 H5"/><text x="7.5" y="10.5" font-size="6" fill="#9cc4f0" stroke="none" text-anchor="middle">¥</text>
</svg>
<div class="a mi" style="left:26px;top:156.3px">财务管理</div>
<svg class="a" style="left:98px;top:157px" width="6" height="9" viewBox="0 0 6 9"><path d="M1 1 L4.5 4.5 L1 8" fill="none" stroke="#c8cce0" stroke-width="1"/></svg>

<svg class="a" style="left:7px;top:176px" width="15" height="15" viewBox="0 0 15 15" fill="none" stroke="#b8c0dc" stroke-width="1">
 <rect x="1.5" y="1.5" width="4" height="12"/><path d="M12 1.5 H8.5 V13.5 H10"/><path d="M11.5 9.5 V14.5 M9 12 H14" stroke="#5aa0e8"/>
</svg>
<div class="a mi" style="left:26px;top:178.3px">拓展应用</div>
<svg class="a" style="left:98px;top:179px" width="6" height="9" viewBox="0 0 6 9"><path d="M1 1 L4.5 4.5 L1 8" fill="none" stroke="#c8cce0" stroke-width="1"/></svg>

<svg class="a" style="left:7px;top:198px" width="15" height="15" viewBox="0 0 15 15" fill="none" stroke="#b8c0dc" stroke-width="1">
 <path d="M7.5 1.5 L9 3 L11.5 2.5 L12 5 L14 6.5 L12.5 8.5 L13 11 L10.5 11.5 L9 13.5 L7 12.5 L4.5 13.5 L3.5 11 L1.5 10 L2.5 7.5 L1.5 5 L4 4 L5 1.8 Z"/>
 <text x="7.5" y="9" font-size="4" fill="#5aa0e8" stroke="none" text-anchor="middle">MES</text>
</svg>
<div class="a mi" style="left:26px;top:200.3px">MES管理</div>
<svg class="a" style="left:98px;top:201px" width="6" height="9" viewBox="0 0 6 9"><path d="M1 1 L4.5 4.5 L1 8" fill="none" stroke="#c8cce0" stroke-width="1"/></svg>

<svg class="a" style="left:7px;top:220px" width="15" height="15" viewBox="0 0 15 15" fill="none" stroke="#b8c0dc" stroke-width="1">
 <path d="M1.5 14 V7 M4.5 14 V4.5 M8 14 V8 M11.5 14 V6"/><path d="M1.5 7 L4.5 4.5 L8 8 L12.5 2.5" stroke="#5aa0e8"/>
</svg>
<div class="a mi" style="left:26px;top:222.3px">报表分析</div>
<svg class="a" style="left:98px;top:223px" width="6" height="9" viewBox="0 0 6 9"><path d="M1 1 L4.5 4.5 L1 8" fill="none" stroke="#c8cce0" stroke-width="1"/></svg>

<svg class="a" style="left:8px;top:551px" width="15" height="13" viewBox="0 0 15 13" fill="none">
 <rect x="1.5" y="1" width="12" height="8" stroke="#5a8ad8" stroke-width="1"/><path d="M4 4 H11" stroke="#e8b860" stroke-width="1"/><path d="M4 6.5 H11" stroke="#e8e0d0" stroke-width="1"/><path d="M4 11.5 H11" stroke="#5a8ad8" stroke-width="1"/>
</svg>
<svg class="a" style="left:8px;top:568px" width="15" height="15" viewBox="0 0 15 15" fill="none" stroke-width="1.1">
 <circle cx="4" cy="4" r="2.6" stroke="#3a7ad0"/><circle cx="11" cy="4" r="2.6" fill="#c8d070" stroke="#c8d070"/><circle cx="4" cy="11" r="2.6" fill="#c8d070" stroke="#c8d070"/><circle cx="11" cy="11" r="2.6" stroke="#3a7ad0"/>
</svg>
<div class="a" style="left:48px;top:552.5px;font-size:9.7px;color:#dadcea">控制台</div>
<div class="a" style="left:50px;top:568.5px;font-size:9.7px;color:#dadcea;letter-spacing:4.6px">开始</div>

<!-- header content -->
<svg class="a" style="left:0px;top:0px" width="34" height="30" viewBox="0 0 34 30">
 <path d="M6.5 5.5 C12 4.5 15.5 8 15 12 C14.5 16 11 18.5 7 18" fill="none" stroke="#e3242b" stroke-width="3.6" stroke-linecap="round"/>
 <path d="M16.8 10 L20 9.5 L24.5 26.5 L17 26.5 Z" fill="#e8202a"/>
 <path d="M16.5 3.2 C22 2 28.5 3 31 7.5" fill="none" stroke="#e3242b" stroke-width="3.1" stroke-linecap="round"/>
 <path d="M17.5 6.8 C23.5 6.5 30 11 31 19.5" fill="none" stroke="#e3242b" stroke-width="3.1" stroke-linecap="round"/>
</svg>
<div class="a" style="left:37px;top:1.5px;font-size:12.6px;font-weight:bold;color:#fff;letter-spacing:-0.2px;-webkit-text-stroke:0.5px #fff">顺景软件</div>
<div class="a" style="left:38px;top:17px;font-size:10.6px;color:#dfe6f8;transform:scaleX(0.94);transform-origin:0 0">Centersoft</div>
<div class="a" style="left:92px;top:3px;width:1.5px;height:24px;background:#e6ecf8"></div>
<svg class="a" style="left:95px;top:3px" width="30" height="24" viewBox="0 0 30 24">
 <path d="M5 14 C6 20 11 20 14.5 15.5 C16.5 12.5 18.5 8.5 21.5 6.5" fill="none" stroke="#2f8fe6" stroke-width="2.8" stroke-linecap="round"/>
 <path d="M12.7 7.4 C11 4.8 6.5 4.5 5.6 7.3 C4.8 10 9 11 12.3 13" fill="none" stroke="#ffffff" stroke-width="3" stroke-linecap="round"/>
 <path d="M22.5 5.6 C26 7 26.5 12 24.2 15.5 C23.2 17 22.2 18.5 21.2 19.5" fill="none" stroke="#ffffff" stroke-width="2.8" stroke-linecap="round"/>
 <path d="M17.8 12.6 C19.3 13.6 21.3 13.6 23.5 12.4" fill="none" stroke="#ffffff" stroke-width="2.2" stroke-linecap="round"/>
</svg>
<div class="a" style="left:127px;top:6px;font-size:13.6px;color:#e9eefa">智能ERP管理平台</div>
<div class="a" style="left:354px;top:0;width:70px;height:32px;background:#0b1650"></div>
<div class="a nav" style="left:308.5px;top:7.5px">首页</div>
<div class="a nav" style="left:367.5px;top:7.5px">全部模块</div>
<div class="a nav" style="left:437.5px;top:7.5px">基础设置</div>
<div class="a" style="left:777.3px;top:8.3px;font-size:8.5px;color:#e2e8f6">17:40</div>
<div class="a" style="left:813px;top:1.5px;font-size:8.6px;color:#e2e8f6">星期二</div>
<div class="a" style="left:812.8px;top:16.8px;font-size:8.9px;color:#e2e8f6">2021年8月31日</div>
<svg class="a" style="left:918px;top:3px" width="23" height="23" viewBox="0 0 23 23">
<circle cx="11.5" cy="11.5" r="11" fill="#f2c4cf"/>
<path d="M2 9 Q4 1 11.5 1.5 Q19 1 21 9 Q18 5 11.5 5.5 Q5 5 2 9 Z" fill="#e8a0b4"/>
<ellipse cx="11.5" cy="13" rx="7" ry="6.5" fill="#f8e4e6"/>
<path d="M6.5 11 h3 M13.5 11 h3" stroke="#b07080" stroke-width="1"/>
<path d="M9.5 16 Q11.5 17.5 13.5 16" stroke="#c08090" stroke-width="0.8" fill="none"/>
<path d="M3 14 Q2 19 5 21 M20 14 Q21 19 18 21" stroke="#e8a8b8" stroke-width="2" fill="none"/>
</svg>
<div class="a" style="left:945px;top:8.5px;font-size:9.4px;color:#555">系统管理员</div>
<div class="a" style="left:1000px;top:4px;width:71px;height:21px;border:1.4px solid #c85866;border-radius:11px;background:#fff"></div>
<svg class="a" style="left:1009px;top:9px" width="13" height="12" viewBox="0 0 13 12">
 <path d="M6 1 H1.5 V11 H6" fill="none" stroke="#5a9ad8" stroke-width="1.3"/>
 <path d="M4.5 6 H11.5 M9 3.5 L11.5 6 L9 8.5" fill="none" stroke="#e0506a" stroke-width="1.3"/>
</svg>
<div class="a" style="left:1025.5px;top:8.8px;font-size:9.4px;color:#dc3c56">退出登录</div>

</body></html>
